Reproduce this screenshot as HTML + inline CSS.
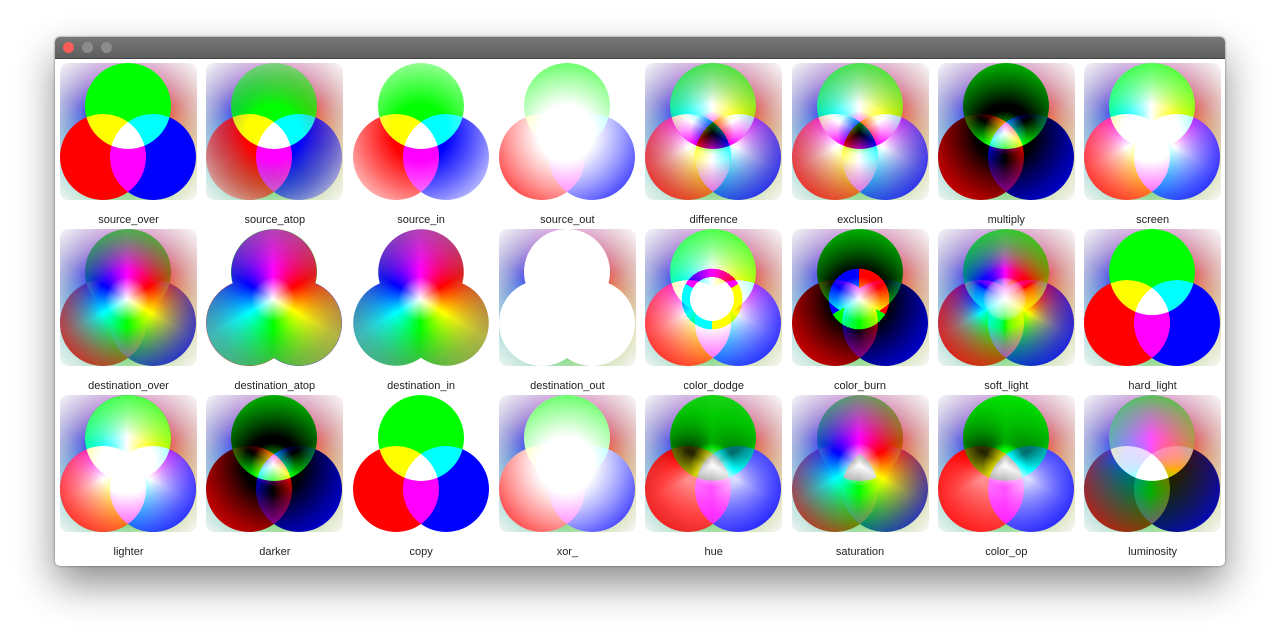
<!DOCTYPE html>
<html><head><meta charset="utf-8">
<style>
body{margin:0;width:1280px;height:638px;background:#fff;overflow:hidden;font-family:"Liberation Sans",sans-serif;}
#win{position:absolute;left:55px;top:37px;width:1170px;height:529px;background:#fff;border-radius:5px;box-shadow:0 18px 40px rgba(0,0,0,.45),0 0 2px rgba(0,0,0,.5);overflow:hidden;}
#bar{position:absolute;left:0;top:0;width:100%;height:21px;background:linear-gradient(#777,#5e5e5e);border-bottom:1px solid #444;}
.btn{position:absolute;top:5px;width:11px;height:11px;border-radius:50%;}
.tile{position:absolute;width:137px;height:137px;isolation:isolate;}
.lay{position:absolute;left:0;top:0;width:137px;height:137px;}
.dest{background:radial-gradient(circle at 67px 70px,#fff 0,rgba(255,255,255,0) 22px),radial-gradient(circle at 67px 70px,rgba(128,128,128,0) 30px,rgba(120,120,120,.5) 65px,rgba(120,120,120,.7) 95px),conic-gradient(from 0deg at 67px 70px,#f0f,#f00,#ff0,#0f0,#0ff,#00f,#f0f);
 -webkit-mask-image:radial-gradient(circle at 67px 70px,#000 28px,rgba(0,0,0,.6) 58px,rgba(0,0,0,.35) 75px,rgba(0,0,0,.05) 97px);
 mask-image:radial-gradient(circle at 67px 70px,#000 28px,rgba(0,0,0,.6) 58px,rgba(0,0,0,.35) 75px,rgba(0,0,0,.05) 97px);border-radius:8px;}
.src{isolation:isolate;}
.c{position:absolute;width:86px;height:86px;border-radius:50%;mix-blend-mode:screen;}
.g{left:25px;top:0;background:#0f0}.r{left:0;top:51px;background:#f00}.b{left:50px;top:51px;background:#00f}
.wc{position:absolute;width:86px;height:86px;border-radius:50%;background:#fff;}
.lbl{position:absolute;width:146px;text-align:center;font-size:11px;color:#222;}
</style></head><body>
<div id="win">
 <div id="bar">
  <div class="btn" style="left:8px;background:#fc5b57"></div>
  <div class="btn" style="left:27px;background:#8c8c8c"></div>
  <div class="btn" style="left:46px;background:#8c8c8c"></div>
 </div>
</div>
<script>
const modes=["source_over","source_atop","source_in","source_out","difference","exclusion","multiply","screen",
"destination_over","destination_atop","destination_in","destination_out","color_dodge","color_burn","soft_light","hard_light",
"lighter","darker","copy","xor_","hue","saturation","color_op","luminosity"];
const blend={difference:"difference",exclusion:"exclusion",multiply:"multiply",screen:"screen",color_dodge:"color-dodge",
color_burn:"color-burn",soft_light:"soft-light",hard_light:"hard-light",lighter:"plus-lighter",darker:"multiply",
hue:"hue",saturation:"saturation",color_op:"color",luminosity:"luminosity"};
const win=document.getElementById('win');
const DM="radial-gradient(circle at 67px 70px,#000 28px,rgba(0,0,0,.6) 58px,rgba(0,0,0,.35) 75px,rgba(0,0,0,.05) 97px)";
const IM="radial-gradient(circle at 67px 70px,rgba(0,0,0,0) 28px,rgba(0,0,0,.4) 58px,rgba(0,0,0,.65) 75px,rgba(0,0,0,.95) 97px)";
const CM="radial-gradient(circle 43px at 68px 43px,#000 42.5px,transparent 43px),radial-gradient(circle 43px at 43px 94px,#000 42.5px,transparent 43px),radial-gradient(circle 43px at 93px 94px,#000 42.5px,transparent 43px)";
function dest(t,mask){const d=document.createElement('div');d.className='lay dest';


if(mask){d.style.webkitMaskImage=mask;d.style.maskImage=mask;}t.appendChild(d);return d;}
function src(t,mask,bm){const s=document.createElement('div');s.className='lay src';


s.innerHTML='<div class="c g"></div><div class="c r"></div><div class="c b"></div>';
if(mask){s.style.webkitMaskImage=mask;s.style.maskImage=mask;}if(bm)s.style.mixBlendMode=bm;t.appendChild(s);return s;}
function whites(t){const w=document.createElement('div');w.className='lay';


w.innerHTML='<div class="wc" style="left:25px;top:0"></div><div class="wc" style="left:0;top:51px"></div><div class="wc" style="left:50px;top:51px"></div>';t.appendChild(w);}
modes.forEach((m,i)=>{
 const col=i%8,row=Math.floor(i/8);
 const x=5+col*146.3,y=26+row*166;
 const t=document.createElement('div');t.className='tile';
 
 
 t.style.left=x+'px';t.style.top=y+'px';
 if(m=="source_over"){dest(t);src(t);}
 else if(m=="source_atop"){dest(t);src(t,DM);}
 else if(m=="source_in"){src(t,DM);}
 else if(m=="source_out"){src(t,IM);}
 else if(m=="destination_over"){src(t);dest(t);}
 else if(m=="destination_atop"){src(t);dest(t,CM);}
 else if(m=="destination_in"){dest(t,CM);}
 else if(m=="destination_out"){dest(t);whites(t);}
 else if(m=="xor_"){dest(t);whites(t);src(t,IM);}
 else if(m=="copy"){src(t);}
 else {dest(t);src(t,null,blend[m]);}
 win.appendChild(t);
 const l=document.createElement('div');l.className='lbl';
 
 
 l.textContent=m;l.style.left=(x-4.5)+'px';l.style.top=(y+151)+'px';
 win.appendChild(l);
});
</script>
</body></html>
